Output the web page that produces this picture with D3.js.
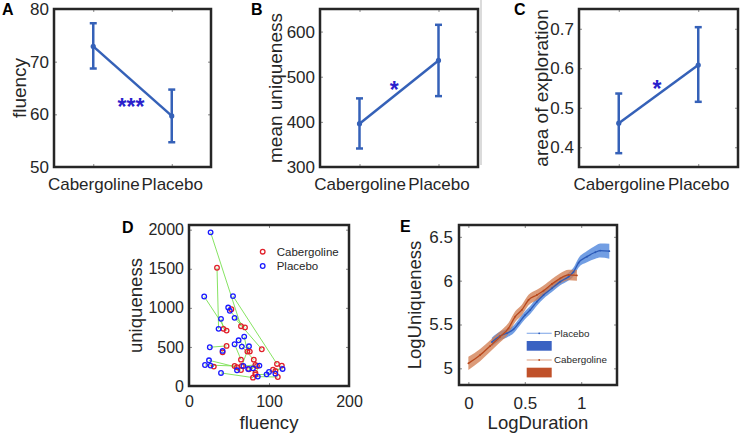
<!DOCTYPE html>
<html><head><meta charset="utf-8">
<script src="https://cdn.jsdelivr.net/npm/d3@7"></script>
<style>body{margin:0;background:#fff}svg{display:block;font-family:"Liberation Sans",Arial,sans-serif}</style>
</head><body><svg id="c" width="741" height="437"></svg>
<script>
// ---------- data ----------
const groups = ["Cabergoline", "Placebo"];
const fluencyMean = [72.9, 59.7], fluencyLo = [68.7, 54.7], fluencyHi = [77.3, 64.7];
const uniqMean = [396, 536], uniqLo = [341, 457], uniqHi = [452, 615];
const areaMean = [0.461, 0.608], areaLo = [0.385, 0.515], areaHi = [0.536, 0.704];
const sigText = ["***", "*", "*"];
const sigX = [1.48, 1.44, 1.48];
const sigY = [62.4, 483, 0.562];

// panel D: per-subject pairs
const cabFluency = [65,35,47,110,91,43,53,47,57,31,80,105,116,111,73,76,65,81,66,83,85,75,83,83,108,65,42,70,60];
const cabUniq    = [765,1513,709,282,470,731,983,513,256,248,107,209,261,115,440,440,337,337,256,269,256,214,167,145,192,205,431,750,240];
const plaFluency = [27,37,19,55,57,40,49,26,20,27,40,117,108,86,69,62,57,66,75,68,74,80,88,97,100,60,42,51,25];
const plaUniq    = [1966,731,1145,1150,872,859,1004,496,269,261,167,218,158,120,632,585,534,504,508,256,218,226,261,149,179,201,449,962,329];

// panel E
const plaLogDur = [0.208,0.281,0.341,0.4,0.444,0.503,0.548,0.607,0.666,0.74,0.814,0.888,0.932,0.977,1.051,1.125,1.169,1.249];
const plaLogUni = [5.30,5.369,5.40,5.445,5.513,5.608,5.666,5.76,5.837,5.913,5.989,6.046,6.10,6.205,6.274,6.324,6.343,6.336];
const plaErr    = [0.05,0.05,0.048,0.045,0.045,0.045,0.045,0.045,0.042,0.042,0.042,0.045,0.05,0.055,0.065,0.075,0.08,0.085];
const cabLogDur = [0,0.104,0.193,0.281,0.355,0.415,0.474,0.533,0.607,0.666,0.74,0.814,0.888,0.962];
const cabLogUni = [5.057,5.152,5.255,5.36,5.456,5.59,5.666,5.78,5.837,5.886,5.962,6.027,6.065,6.06];
const cabErr    = [0.075,0.07,0.065,0.062,0.06,0.06,0.06,0.06,0.06,0.058,0.058,0.058,0.06,0.062];
const legendE = ["Placebo", "Cabergoline"];

// ---------- drawing ----------
const svg = d3.select("#c");
svg.append("rect").attr("width",741).attr("height",437).attr("fill","#fff");
const FONT = '"Liberation Sans",Arial,sans-serif';

function makePanel(c) {
  const x = d3.scaleLinear().domain(c.xDomain).range([c.box.x, c.box.x + c.box.w]);
  const y = d3.scaleLinear().domain(c.yDomain).range([c.box.y + c.box.h, c.box.y]);
  const g = svg.append("g");
  const style = sel => {
    sel.select(".domain").remove();
    sel.selectAll(".tick line").attr("stroke", "#888").attr("stroke-width", 1);
    sel.selectAll("text").attr("fill", "#262626").style("font-family", FONT).style("font-size", c.tickFs + "px");
  };
  g.append("g").attr("transform", `translate(0,${c.box.y + c.box.h})`)
    .call(d3.axisBottom(x).tickValues(c.xTicks).tickSize(-3).tickPadding(c.xPad).tickFormat(c.xFmt)).call(style);
  g.append("g").attr("transform", `translate(0,${c.box.y})`)
    .call(d3.axisTop(x).tickValues(c.xTicks).tickSize(-3).tickFormat("")).call(style);
  g.append("g").attr("transform", `translate(${c.box.x},0)`)
    .call(d3.axisLeft(y).tickValues(c.yTicks).tickSize(-3).tickPadding(c.yPad).tickFormat(d => String(d))).call(style);
  g.append("g").attr("transform", `translate(${c.box.x + c.box.w},0)`)
    .call(d3.axisRight(y).tickValues(c.yTicks).tickSize(-3).tickFormat("")).call(style);
  g.append("text").attr("transform", `translate(${c.yLabelX},${c.box.y + c.box.h / 2}) rotate(-90)`)
    .attr("text-anchor", "middle").attr("dy", "0.35em").attr("fill", "#262626")
    .style("font-size", c.labelFs + "px").text(c.yLabel);
  if (c.xLabel) {
    g.append("text").attr("x", c.box.x + c.box.w / 2).attr("y", c.xLabelY)
      .attr("text-anchor", "middle").attr("fill", "#262626")
      .style("font-size", c.labelFs + "px").text(c.xLabel);
  }
  g.append("text").attr("x", c.letterX).attr("y", c.letterY).attr("font-weight", "bold")
    .style("font-size", "16px").attr("fill", "#000").text(c.letter);
  const plot = svg.append("g");
  const frame = () => svg.append("rect").attr("x", c.box.x).attr("y", c.box.y)
    .attr("width", c.box.w).attr("height", c.box.h)
    .attr("fill", "none").attr("stroke", "#262626").attr("stroke-width", 2.5);
  return { x, y, plot, frame };
}

// faint vertical rule near panel C
svg.append("line").attr("x1", 481).attr("x2", 481).attr("y1", 0).attr("y2", 165)
  .attr("stroke", "#cfcfcf").attr("stroke-width", 1.5);

const lineBlue = "#3561b8", starBlue = "#2a22cc";
function meanPanel(box, means, lo, hi, yDomain, yTicks, yLabel, yLabelX, letter, letterX, k) {
  const p = makePanel({
    box, xDomain: [0.5, 2.5], yDomain, xTicks: [1, 2], yTicks,
    xFmt: d => groups[d - 1], xPad: 11, yPad: 5, tickFs: 17, labelFs: 19,
    yLabel, yLabelX, letter, letterX, letterY: 15
  });
  const idx = [1, 2];
  p.plot.append("path").datum(idx)
    .attr("d", d3.line().x(d => p.x(d)).y((d, i) => p.y(means[i])))
    .attr("fill", "none").attr("stroke", lineBlue).attr("stroke-width", 2.5);
  idx.forEach((d, i) => {
    const cx = p.x(d);
    p.plot.append("line").attr("x1", cx).attr("x2", cx).attr("y1", p.y(lo[i])).attr("y2", p.y(hi[i]))
      .attr("stroke", lineBlue).attr("stroke-width", 2.5);
    [lo[i], hi[i]].forEach(v => p.plot.append("line").attr("x1", cx - 3.5).attr("x2", cx + 3.5)
      .attr("y1", p.y(v)).attr("y2", p.y(v)).attr("stroke", lineBlue).attr("stroke-width", 2.5));
    p.plot.append("circle").attr("cx", cx).attr("cy", p.y(means[i])).attr("r", 2.6).attr("fill", lineBlue);
  });
  const fs = 23;
  p.plot.append("text").attr("x", p.x(sigX[k])).attr("y", p.y(sigY[k]) + 0.58 * fs)
    .attr("text-anchor", "middle").attr("fill", starBlue).attr("font-weight", "bold")
    .style("font-size", fs + "px").text(sigText[k]);
  p.frame();
}

meanPanel({ x: 54, y: 9, w: 157, h: 158 }, fluencyMean, fluencyLo, fluencyHi, [50, 80], [50, 60, 70, 80], "fluency", 19, "A", 2, 0);
meanPanel({ x: 320, y: 9, w: 158, h: 158 }, uniqMean, uniqLo, uniqHi, [300, 650], [300, 400, 500, 600], "mean uniqueness", 275, "B", 251, 1);
meanPanel({ x: 579, y: 9, w: 159, h: 158 }, areaMean, areaLo, areaHi, [0.35, 0.75], [0.4, 0.5, 0.6, 0.7], "area of exploration", 541, "C", 514, 2);

// ---------- panel D ----------
{
  const p = makePanel({
    box: { x: 189, y: 225, w: 160, h: 161 }, xDomain: [0, 200], yDomain: [0, 2060],
    xTicks: [0, 100, 200], yTicks: [0, 500, 1000, 1500, 2000], xFmt: d => String(d),
    xPad: 10, yPad: 5, tickFs: 16, labelFs: 18.6, yLabel: "uniqueness", yLabelX: 135,
    xLabel: "fluency", xLabelY: 429, letter: "D", letterX: 122, letterY: 233
  });
  const idx = d3.range(cabFluency.length);
  p.plot.selectAll(".pair").data(idx).join("line")
    .attr("x1", i => p.x(cabFluency[i])).attr("y1", i => p.y(cabUniq[i]))
    .attr("x2", i => p.x(plaFluency[i])).attr("y2", i => p.y(plaUniq[i]))
    .attr("stroke", "#78e050").attr("stroke-width", 0.9);
  p.plot.selectAll(".cab").data(idx).join("circle")
    .attr("cx", i => p.x(cabFluency[i])).attr("cy", i => p.y(cabUniq[i])).attr("r", 2.3)
    .attr("fill", "none").attr("stroke", "#e0202a").attr("stroke-width", 1.3);
  p.plot.selectAll(".pla").data(idx).join("circle")
    .attr("cx", i => p.x(plaFluency[i])).attr("cy", i => p.y(plaUniq[i])).attr("r", 2.3)
    .attr("fill", "none").attr("stroke", "#1a1aff").attr("stroke-width", 1.3);
  const lgColors = ["#e0202a", "#1a1aff"];
  groups.forEach((name, i) => {
    const yy = 251.7 + i * 14.3;
    p.plot.append("circle").attr("cx", 262.7).attr("cy", yy).attr("r", 2.3)
      .attr("fill", "none").attr("stroke", lgColors[i]).attr("stroke-width", 1.3);
    p.plot.append("text").attr("x", 276.7).attr("y", yy).attr("dy", "0.35em")
      .attr("fill", "#262626").style("font-size", "11.5px").text(name);
  });
  p.frame();
}

// ---------- panel E ----------
{
  const p = makePanel({
    box: { x: 459, y: 225, w: 158, h: 160 }, xDomain: [-0.083, 1.317], yDomain: [4.81, 6.635],
    xTicks: [0, 0.5, 1], yTicks: [5, 5.5, 6, 6.5], xFmt: d => String(d),
    xPad: 12, yPad: 6, tickFs: 17, labelFs: 18.5, yLabel: "LogUniqueness", yLabelX: 415,
    xLabel: "LogDuration", xLabelY: 429, letter: "E", letterX: 400, letterY: 232
  });
  const series = [
    { xs: plaLogDur, ys: plaLogUni, e: plaErr, band: "#4f86dc", bandOp: 0.8, line: "#2c5ab8", legLine: "#8fb2ea", rect: "#3a62c2" },
    { xs: cabLogDur, ys: cabLogUni, e: cabErr, band: "#d07a4c", bandOp: 0.75, line: "#b8481c", legLine: "#e3b095", rect: "#c0512a" }
  ];
  series.forEach(s => {
    const idx = d3.range(s.xs.length);
    p.plot.append("path").datum(idx)
      .attr("d", d3.area().x(i => p.x(s.xs[i])).y0(i => p.y(s.ys[i] - s.e[i])).y1(i => p.y(s.ys[i] + s.e[i])).curve(d3.curveMonotoneX))
      .attr("fill", s.band).attr("fill-opacity", s.bandOp);
  });
  series.forEach(s => {
    const idx = d3.range(s.xs.length);
    p.plot.append("path").datum(idx)
      .attr("d", d3.line().x(i => p.x(s.xs[i])).y(i => p.y(s.ys[i])).curve(d3.curveMonotoneX))
      .attr("fill", "none").attr("stroke", s.line).attr("stroke-width", 1.3);
    p.plot.selectAll(null).data(idx).join("circle")
      .attr("cx", i => p.x(s.xs[i])).attr("cy", i => p.y(s.ys[i])).attr("r", 0.9).attr("fill", s.line);
  });
  series.forEach((s, i) => {
    const ly = 333.3 + i * 26.7;
    p.plot.append("line").attr("x1", 526.7).attr("x2", 551.7).attr("y1", ly).attr("y2", ly)
      .attr("stroke", s.legLine).attr("stroke-width", 1.2);
    p.plot.append("circle").attr("cx", 539.2).attr("cy", ly).attr("r", 0.9).attr("fill", s.line);
    p.plot.append("text").attr("x", 554).attr("y", ly).attr("dy", "0.35em").attr("fill", "#262626")
      .style("font-size", "9.8px").text(legendE[i]);
    p.plot.append("rect").attr("x", 526.7).attr("y", ly + 7.7).attr("width", 25).attr("height", 9.7)
      .attr("fill", s.rect);
  });
  p.frame();
}
</script></body></html>
